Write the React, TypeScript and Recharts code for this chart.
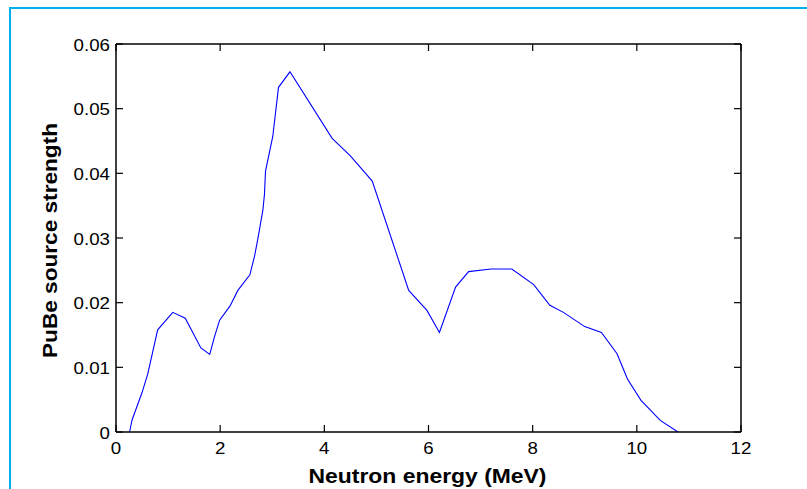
import React from 'react';
import { LineChart, Line, XAxis, YAxis, Label } from 'recharts';

const energy = [0.26, 0.31, 0.5, 0.61, 0.8, 1.09, 1.33, 1.63, 1.8, 1.89, 1.99, 2.19, 2.34, 2.57, 2.66, 2.72, 2.82, 2.85, 2.87, 3.01, 3.12, 3.34, 4.15, 4.5, 4.92, 5.62, 5.97, 6.21, 6.52, 6.77, 7.2, 7.6, 8.02, 8.33, 8.59, 9.0, 9.32, 9.62, 9.82, 10.08, 10.45, 10.79];
const strength = [0, 0.0019, 0.0061, 0.009, 0.0158, 0.0185, 0.0176, 0.013, 0.012, 0.0147, 0.0173, 0.0195, 0.0219, 0.0243, 0.0272, 0.0297, 0.0343, 0.0367, 0.0403, 0.0457, 0.0533, 0.0557, 0.0454, 0.0427, 0.0388, 0.0219, 0.0188, 0.0154, 0.0224, 0.0248, 0.0252, 0.0252, 0.0228, 0.0196, 0.0185, 0.0163, 0.0154, 0.0121, 0.0082, 0.0049, 0.0018, 0];
const xTicks = [0, 2, 4, 6, 8, 10, 12];
const yTicks = [0, 0.01, 0.02, 0.03, 0.04, 0.05, 0.06];
const xLabel = 'Neutron energy (MeV)';
const yLabel = 'PuBe source strength';

const data = energy.map((e, i) => ({ energy: e, strength: strength[i] }));

const FONT = '"Liberation Sans", Arial, Helvetica, sans-serif';
const TICK_LEN = 7;
const TICK_FS = 17;
const STRETCH = 1.1;

function textWidth(s: string, fs: number) {
  let w = 0;
  for (const c of s) w += c === '.' ? 0.278 : 0.556;
  return w * fs * STRETCH;
}

function BottomTick(props: any) {
  const { x, y, payload } = props;
  const s = String(payload.value);
  return (
    <g>
      <line x1={x} y1={y} x2={x} y2={y - TICK_LEN} stroke="#000" strokeWidth={1.2} />
      <text x={x} y={y + 22} textAnchor="middle" fontSize={TICK_FS} fontFamily={FONT} fill="#000"
        textLength={textWidth(s, TICK_FS)} lengthAdjust="spacingAndGlyphs">{s}</text>
    </g>
  );
}

function TopTick(props: any) {
  const { x, y } = props;
  return <line x1={x} y1={y} x2={x} y2={y + TICK_LEN} stroke="#000" strokeWidth={1.2} />;
}

function LeftTick(props: any) {
  const { x, y, payload } = props;
  const s = String(payload.value);
  return (
    <g>
      <line x1={x} y1={y} x2={x + TICK_LEN} y2={y} stroke="#000" strokeWidth={1.2} />
      <text x={x - 6} y={y + 6.5} textAnchor="end" fontSize={TICK_FS} fontFamily={FONT} fill="#000"
        textLength={textWidth(s, TICK_FS)} lengthAdjust="spacingAndGlyphs">{s}</text>
    </g>
  );
}

function RightTick(props: any) {
  const { x, y } = props;
  return <line x1={x} y1={y} x2={x - TICK_LEN} y2={y} stroke="#000" strokeWidth={1.2} />;
}

function XTitle(props: any) {
  const vb = props.viewBox;
  const cx = vb.x + vb.width / 2 - 1;
  return (
    <text x={cx} y={vb.y + 50.5} textAnchor="middle" fontSize={21} fontWeight="bold" fontFamily={FONT} fill="#000"
      textLength={238} lengthAdjust="spacingAndGlyphs">{xLabel}</text>
  );
}

function YTitle(props: any) {
  const vb = props.viewBox;
  const cx = vb.x + 56.5;
  const cy = vb.y + vb.height / 2 + 2.5;
  return (
    <text x={cx} y={cy} transform={`rotate(-90 ${cx} ${cy})`} textAnchor="middle" fontSize={20.5} fontWeight="bold"
      fontFamily={FONT} fill="#000" textLength={235} lengthAdjust="spacingAndGlyphs">{yLabel}</text>
  );
}

export default function App() {
  return (
    <div style={{ position: 'fixed', left: 0, top: 0, width: 807, height: 489, overflow: 'hidden', background: '#fff' }}>
      <div style={{ position: 'absolute', left: 9, top: 7, width: 1200, height: 1200, border: '2px solid #00aeef', boxSizing: 'border-box' }} />
      <div style={{ position: 'absolute', left: 0, top: 0 }}>
        <LineChart width={807} height={489} data={data} margin={{ top: 43, right: 65, bottom: 0, left: 0 }}>
          <XAxis xAxisId="bottom" type="number" dataKey="energy" domain={[0, 12]} ticks={xTicks} orientation="bottom"
            height={57} tickSize={0} tickMargin={0} tickLine={false} tick={<BottomTick />} interval={0}
            axisLine={{ stroke: '#000', strokeWidth: 1.5 }} allowDataOverflow>
            <Label content={<XTitle />} />
          </XAxis>
          <XAxis xAxisId="top" type="number" dataKey="energy" domain={[0, 12]} ticks={xTicks} orientation="top"
            height={1} tickSize={0} tickMargin={0} tickLine={false} tick={<TopTick />} interval={0}
            axisLine={{ stroke: '#000', strokeWidth: 1.5 }} allowDataOverflow />
          <YAxis yAxisId="left" type="number" domain={[0, 0.06]} ticks={yTicks} orientation="left" width={116}
            tickSize={0} tickMargin={0} tickLine={false} tick={<LeftTick />} interval={0}
            axisLine={{ stroke: '#000', strokeWidth: 1.5 }} allowDataOverflow>
            <Label content={<YTitle />} />
          </YAxis>
          <YAxis yAxisId="right" type="number" domain={[0, 0.06]} ticks={yTicks} orientation="right" width={1}
            tickSize={0} tickMargin={0} tickLine={false} tick={<RightTick />} interval={0}
            axisLine={{ stroke: '#000', strokeWidth: 1.5 }} allowDataOverflow />
          <Line xAxisId="top" yAxisId="right" type="linear" dataKey="strength" stroke="transparent" strokeWidth={0}
            dot={false} activeDot={false} isAnimationActive={false} legendType="none" />
          <Line xAxisId="bottom" yAxisId="left" type="linear" dataKey="strength" stroke="#0000ff" strokeWidth={1.1}
            dot={false} activeDot={false} isAnimationActive={false} />
        </LineChart>
      </div>
    </div>
  );
}
